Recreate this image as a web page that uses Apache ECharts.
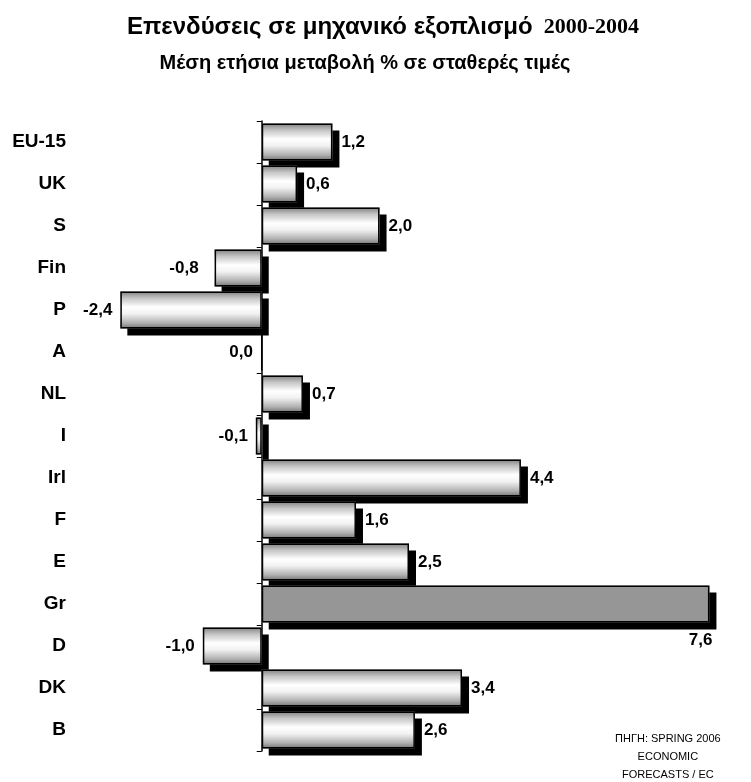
<!DOCTYPE html>
<html>
<head>
<meta charset="utf-8">
<script src="https://cdn.jsdelivr.net/npm/echarts@6/dist/echarts.min.js"></script>
<style>
  html, body { margin: 0; padding: 0; background: #fff; }
  #chart { width: 751px; height: 782px; }
</style>
</head>
<body>
<div id="chart"></div>
<script>
// data
const countries = ["EU-15", "UK", "S", "Fin", "P", "A", "NL", "I", "Irl", "F", "E", "Gr", "D", "DK", "B"];
const growth = [1.2, 0.6, 2.0, -0.8, -2.4, 0.0, 0.7, -0.1, 4.4, 1.6, 2.5, 7.6, -1.0, 3.4, 2.6];
const highlight = "Gr";
const sourceLines = ["ΠΗΓΗ: SPRING 2006", "ECONOMIC", "FORECASTS / EC"];

const narrow = "'Liberation Sans Narrow', 'Arial Narrow', 'Liberation Sans', sans-serif";

const barGradient = new echarts.graphic.LinearGradient(0, 0, 0, 1, [
  { offset: 0, color: "#808080" },
  { offset: 0.18, color: "#c4c4c4" },
  { offset: 0.42, color: "#ffffff" },
  { offset: 0.6, color: "#f2f2f2" },
  { offset: 0.85, color: "#b0b0b0" },
  { offset: 1, color: "#747474" },
]);

const fmt = (v) => v.toFixed(1).replace(".", ",");

// fill + drop shadow (no border, so the border shadow does not fall inside the bar)
const fillData = countries.map((c, i) => {
  const item = { value: growth[i] };
  if (c === highlight) item.itemStyle = { color: "#969696" };
  return item;
});

// outline + labels on top
const outlineData = countries.map((c, i) => {
  const v = growth[i];
  const item = { value: v };
  if (v > 0) {
    item.label = { position: "right", distance: 9 };
  } else {
    item.label = { position: "left", distance: c === "Fin" ? 16 : 8 };
  }
  if (c === highlight) {
    item.label = { position: "insideBottomRight", offset: [8, 31] };
  }
  return item;
});

const chart = echarts.init(document.getElementById("chart"));
chart.setOption({
  animation: false,
  backgroundColor: "#fff",
  title: [
    {
      text: "{a|Επενδύσεις σε μηχανικό εξοπλισμό}{b|  2000-2004}",
      left: 378,
      top: 10,
      textAlign: "center",
      textStyle: {
        rich: {
          a: { fontFamily: narrow, fontWeight: "bold", fontSize: 24, color: "#000" },
          b: { fontFamily: "'Liberation Serif', 'Times New Roman', serif", fontWeight: "bold", fontSize: 22, color: "#000" },
        },
      },
    },
    {
      text: "Μέση ετήσια μεταβολή % σε σταθερές τιμές",
      left: 360,
      top: 48,
      textAlign: "center",
      textStyle: { fontFamily: narrow, fontWeight: "bold", fontSize: 20, color: "#000" },
    },
  ],
  grid: { left: 85, right: 18, top: 121, bottom: 31, containLabel: false },
  xAxis: { type: "value", min: -3, max: 8, show: false },
  yAxis: [
    {
      type: "category",
      data: countries,
      inverse: true,
      axisLine: { onZero: true, lineStyle: { color: "#000", width: 1.5 } },
      axisTick: { show: true, length: 5, lineStyle: { color: "#000" } },
      axisLabel: { show: false },
      splitLine: { show: false },
    },
    {
      type: "category",
      data: countries,
      inverse: true,
      position: "left",
      axisLine: { show: false, onZero: false },
      axisTick: { show: false },
      axisLabel: { margin: 19, fontFamily: narrow, fontWeight: "bold", fontSize: 19, color: "#000" },
    },
  ],
  series: [
    {
      type: "bar",
      yAxisIndex: 0,
      barWidth: 37,
      barGap: "-100%",
      data: fillData,
      itemStyle: {
        color: barGradient,
        borderWidth: 0,
        shadowColor: "#000",
        shadowBlur: 0,
        shadowOffsetX: 7,
        shadowOffsetY: 7,
      },
      label: { show: false },
      emphasis: { disabled: true },
      z: 2,
    },
    {
      type: "bar",
      yAxisIndex: 0,
      barWidth: 37,
      barGap: "-100%",
      data: outlineData,
      itemStyle: {
        color: "rgba(0,0,0,0)",
        borderColor: "#000",
        borderWidth: 1.5,
      },
      label: {
        show: true,
        fontFamily: narrow,
        fontWeight: "bold",
        fontSize: 17,
        color: "#000",
        formatter: (p) => fmt(p.value),
      },
      emphasis: { disabled: true },
      z: 3,
    },
  ],
  graphic: [
    {
      type: "text",
      left: 615,
      top: 730,
      style: {
        text: sourceLines.join("\n"),
        font: "11px 'Liberation Sans', Arial, sans-serif",
        fill: "#000",
        textAlign: "center",
        lineHeight: 18,
      },
    },
  ],
});
</script>
</body>
</html>
